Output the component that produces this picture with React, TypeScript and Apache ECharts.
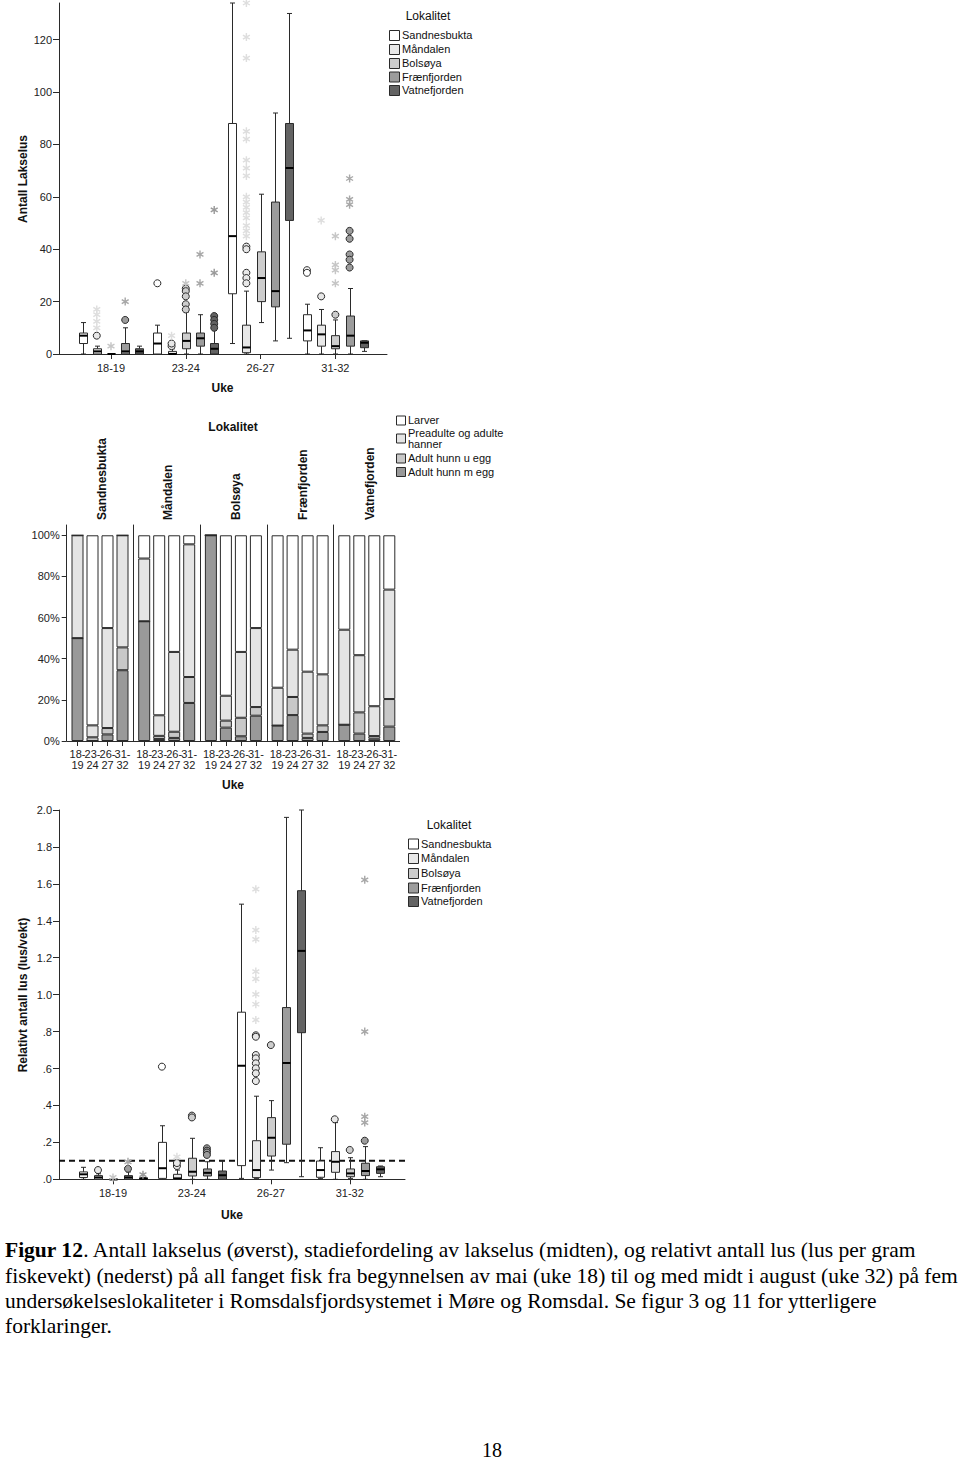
import React, { useEffect, useRef } from 'react';
import * as echarts from 'echarts';

// ---------- categories ----------
const weeks = ['18-19', '23-24', '26-27', '31-32'];
const locations = ['Sandnesbukta', 'Måndalen', 'Bolsøya', 'Frænfjorden', 'Vatnefjorden'];
const stageNames = ['Larver', 'Preadulte og adulte\nhanner', 'Adult hunn u egg', 'Adult hunn m egg'];

// ---------- top: Antall lakselus, box stats [min, q1, median, q3, max] per location x week ----------
const liceBoxSandnesbukta = [[0, 4, 7, 8, 12], [0, 0, 4, 8, 11], [4, 23, 45, 88, 134], [0, 5, 9, 15, 19]];
const liceBoxMandalen = [[0, 0, 1, 2, 3], [0, 0, 0, 1, 2], [0, 0.5, 2.5, 11, 24], [0, 3, 7.5, 11, 17]];
const liceBoxBolsoya = [[0, 0, 0, 0, 0], [0, 2, 5, 8, 16], [12, 20, 29, 39, 61], [0, 2, 3, 7, 13]];
const liceBoxFraenfjorden = [[0, 0, 1, 4, 10], [0, 3, 6, 8, 15], [5, 18, 24, 58, 92], [0, 3, 7, 14.5, 25]];
const liceBoxVatnefjorden = [[0, 0, 1, 2, 3], [0, 0, 2, 4, 9], [6, 51, 71, 88, 130], [1, 2.4, 4.3, 5, 5]];
const liceCircles = [
  [[], [27], [], [32, 31]],
  [[7], [3, 4], [41, 40, 31, 29, 27], [22]],
  [[], [25, 24, 22, 19, 17], [], [15]],
  [[13], [], [], [47, 44, 38, 36, 33]],
  [[], [14.5, 13, 11.5, 10], [], []],
];
const liceStars = [
  [[], [], [], []],
  [[17, 15, 12.5, 10], [7], [134, 121, 113, 85, 82, 74, 71, 68, 60, 58, 56, 54, 52, 49, 47, 45], [51]],
  [[3], [27], [], [45, 34, 32, 27]],
  [[20], [38, 27], [], [67, 59, 57]],
  [[], [55, 31], [], []],
];

// ---------- middle: stage distribution (%) per location x week ----------
const stageEggs = [[50, 0, 3.2, 34.4], [58.2, 1, 1.5, 18.5], [100, 6.5, 2.3, 12.3], [7.5, 12.6, 1.5, 4.4], [7.9, 3.6, 1.1, 7]];
const stageNoEggs = [[0, 1.8, 3.1, 11.1], [0, 1.5, 3, 12.6], [0, 3.4, 9, 4.2], [0, 8.8, 2.1, 3.2], [0, 10.3, 1.3, 13.4]];
const stagePreadult = [[50, 5.8, 48.6, 54.5], [30.5, 10, 38.8, 64.5], [0, 12.1, 32, 38.4], [18.4, 23, 30.1, 24.8], [46.2, 27.8, 14.5, 53.2]];
const stageLarvae = [[0, 92.4, 45.1, 0], [11.3, 87.5, 56.7, 4.4], [0, 78, 56.7, 45.1], [74.1, 55.6, 66.3, 67.6], [45.9, 58.3, 83.1, 26.4]];

// ---------- bottom: relative lice (lus/vekt) ----------
const relBoxSandnesbukta = [[0, 0.01, 0.027, 0.04, 0.065], [0, 0.005, 0.06, 0.2, 0.29], [0.005, 0.074, 0.615, 0.905, 1.49], [0.005, 0.011, 0.05, 0.099, 0.171]];
const relBoxMandalen = [[0, 0, 0.01, 0.02, 0.03], [0, 0, 0.005, 0.027, 0.05], [0.005, 0.009, 0.05, 0.209, 0.45], [0, 0.038, 0.095, 0.15, 0.307]];
const relBoxBolsoya = [[0, 0, 0, 0, 0], [0, 0.018, 0.041, 0.114, 0.222], [0.05, 0.126, 0.225, 0.334, 0.426], [0.005, 0.014, 0.032, 0.056, 0.117]];
const relBoxFraenfjorden = [[0, 0, 0.01, 0.02, 0.04], [0, 0.018, 0.035, 0.056, 0.095], [0.09, 0.19, 0.63, 0.93, 1.96], [0, 0.02, 0.045, 0.087, 0.177]];
const relBoxVatnefjorden = [[0, 0, 0.003, 0.008, 0.01], [0, 0, 0.022, 0.045, 0.1], [0.014, 0.794, 1.237, 1.563, 2.0], [0.014, 0.032, 0.054, 0.068, 0.072]];
const relCircles = [
  [[], [0.61], [], []],
  [[0.05], [0.072, 0.088], [0.78, 0.772, 0.673, 0.655, 0.628, 0.601, 0.574, 0.532], [0.325]],
  [[], [0.345, 0.335], [0.727], [0.159]],
  [[0.057], [0.168, 0.155, 0.145, 0.132], [], [0.209]],
  [[], [], [], []],
];
const relStars = [
  [[], [], [], []],
  [[], [0.122], [1.571, 1.35, 1.3, 1.125, 1.085, 1.002, 0.948, 0.863], []],
  [[0.01], [], [], []],
  [[0.095], [], [], [1.622, 0.8, 0.339, 0.307]],
  [[0.025], [], [], []],
];
const relThreshold = 0.1;

const topTicks = [0, 20, 40, 60, 80, 100, 120];
const midTicks = [0, 20, 40, 60, 80, 100];
const bottomTicks = [0, 0.2, 0.4, 0.6, 0.8, 1.0, 1.2, 1.4, 1.6, 1.8, 2.0];

const captionLines = [
  '{b|Figur 12}. Antall lakselus (øverst), stadiefordeling av lakselus (midten), og relativt antall lus (lus per gram',
  'fiskevekt) (nederst) på all fanget fisk fra begynnelsen av mai (uke 18) til og med midt i august (uke 32) på fem',
  'undersøkelseslokaliteter i Romsdalsfjordsystemet i Møre og Romsdal. Se figur 3 og 11 for ytterligere',
  'forklaringer.',
];

// ---------- styles ----------
const FONT = '"Liberation Sans", Arial, Helvetica, sans-serif';
const SERIF = '"Liberation Serif", "Times New Roman", serif';
const FILL = ['#ffffff', '#e8e8e8', '#cdcdcd', '#9c9c9c', '#636363'];
const STAR = ['#c8c8c8', '#dedede', '#c6c6c6', '#a8a8a8', '#9a9a9a'];
const STAGE_FILL = ['#ffffff', '#e4e4e4', '#c8c8c8', '#999999'];
const INK = '#2a2a2a';

function asteriskPath() {
  const parts: string[] = [];
  for (const a of [0, Math.PI / 3, (2 * Math.PI) / 3]) {
    const c = Math.cos(a), s = Math.sin(a);
    const pts = [[-0.9, -5], [0.9, -5], [0.9, 5], [-0.9, 5]].map(([x, y]) => [(x * c - y * s).toFixed(3), (x * s + y * c).toFixed(3)]);
    parts.push('M' + pts.map((p) => p.join(',')).join('L') + 'Z');
  }
  return 'path://' + parts.join(' ');
}

function boxRender(fill: string) {
  return (params: any, api: any) => {
    const x = api.value(0);
    const lo = api.coord([x, api.value(1)]);
    const q1 = api.coord([x, api.value(2)]);
    const md = api.coord([x, api.value(3)]);
    const q3 = api.coord([x, api.value(4)]);
    const hi = api.coord([x, api.value(5)]);
    const cx = Math.round(lo[0]) + 0.5;
    const hw = 4, cw = 2.5;
    const st = { stroke: INK, lineWidth: 1 };
    return {
      type: 'group',
      children: [
        { type: 'line', shape: { x1: cx, y1: hi[1], x2: cx, y2: q3[1] }, style: st },
        { type: 'line', shape: { x1: cx, y1: q1[1], x2: cx, y2: lo[1] }, style: st },
        { type: 'line', shape: { x1: cx - cw, y1: hi[1], x2: cx + cw, y2: hi[1] }, style: st },
        { type: 'line', shape: { x1: cx - cw, y1: lo[1], x2: cx + cw, y2: lo[1] }, style: st },
        { type: 'rect', shape: { x: cx - hw, y: q3[1], width: 2 * hw, height: Math.max(q1[1] - q3[1], 0.5) }, style: { fill, stroke: INK, lineWidth: 1 } },
        { type: 'line', shape: { x1: cx - hw, y1: md[1], x2: cx + hw, y2: md[1] }, style: { stroke: '#000', lineWidth: 2 } },
      ],
    };
  };
}

function boxSeries(gridAxis: number, boxes: number[][][], circles: number[][][], stars: number[][][], step: number) {
  const out: any[] = [];
  boxes.forEach((locBoxes, l) => {
    const off = (l - 2) * step;
    out.push({
      type: 'custom',
      name: locations[l],
      xAxisIndex: gridAxis,
      yAxisIndex: gridAxis,
      renderItem: boxRender(FILL[l]),
      encode: { x: 0, y: [1, 2, 3, 4, 5] },
      data: locBoxes.map((b, k) => [k + off, ...b]),
      z: 2,
    });
  });
  boxes.forEach((_, l) => {
    const off = (l - 2) * step;
    const cData: number[][] = [];
    circles[l].forEach((vals, k) => vals.forEach((v) => cData.push([k + off, v])));
    const sData: number[][] = [];
    stars[l].forEach((vals, k) => vals.forEach((v) => sData.push([k + off, v])));
    out.push({
      type: 'scatter', name: locations[l] + ' outliers', xAxisIndex: gridAxis, yAxisIndex: gridAxis,
      symbol: 'circle', symbolSize: 7, data: cData, z: 3,
      itemStyle: { color: FILL[l], borderColor: INK, borderWidth: 1, opacity: 1 },
    });
    out.push({
      type: 'scatter', name: locations[l] + ' extremes', xAxisIndex: gridAxis, yAxisIndex: gridAxis,
      symbol: asteriskPath(), symbolSize: 8, symbolKeepAspect: true, data: sData, z: 3,
      itemStyle: { color: STAR[l], opacity: 1 },
    });
  });
  return out;
}

const axisLineStyle = { color: INK, width: 1 };
const labelStyle = { color: '#222', fontSize: 11, fontFamily: FONT };

function boxXAxis(gridIndex: number, min: number, max: number, margin: number) {
  return {
    type: 'value', gridIndex, min, max,
    axisLine: { show: true, onZero: false, lineStyle: axisLineStyle },
    axisTick: { show: true, customValues: [0, 1, 2, 3], length: 5, lineStyle: axisLineStyle },
    axisLabel: { show: true, customValues: [0, 1, 2, 3], formatter: (v: number) => weeks[Math.round(v)] ?? '', margin, ...labelStyle },
    splitLine: { show: false },
  };
}

function legendBlock(title: string, titleX: number, titleY: number, swX: number, txtX: number, rows: number[], names: string[], fills: string[], sw: number, bold: boolean) {
  const els: any[] = [];
  if (title) {
    els.push({ type: 'text', x: titleX, y: titleY, style: { text: title, font: `${bold ? 'bold ' : ''}12px ${FONT}`, fill: '#111', align: 'center', verticalAlign: 'middle' } });
  }
  names.forEach((n, i) => {
    els.push({ type: 'rect', shape: { x: swX + 0.5, y: rows[i] - sw / 2 + 0.5, width: sw, height: sw }, style: { fill: fills[i], stroke: INK, lineWidth: 1 } });
    const lines = n.split('\n');
    lines.forEach((ln, j) => {
      els.push({ type: 'text', x: txtX, y: rows[i] - (lines.length - 1) * 5.5 + j * 11, style: { text: ln, font: `11px ${FONT}`, fill: '#111', align: 'left', verticalAlign: 'middle' } });
    });
  });
  return els;
}

export default function App() {
  const ref = useRef<HTMLDivElement>(null);
  useEffect(() => {
    if (!ref.current) return;
    const chart = echarts.init(ref.current, null, { renderer: 'svg' });

    let capScale = 1;
    try {
      const ctx = document.createElement('canvas').getContext('2d');
      if (ctx) {
        ctx.font = `20px ${SERIF}`;
        const w = ctx.measureText(captionLines[1]).width;
        if (w > 0) capScale = 953 / w;
      }
    } catch (e) { /* ignore */ }

    const grids: any[] = [{ left: 59, top: 3, width: 328, height: 351 }];
    for (let i = 0; i < 5; i++) grids.push({ left: 70 + i * 66.7, top: 525, width: 60, height: 216 });
    grids.push({ left: 59, top: 810, width: 346, height: 369.3 });

    const xAxes: any[] = [boxXAxis(0, -0.695, 3.69, 8)];
    const yAxes: any[] = [{
      type: 'value', gridIndex: 0, min: 0, max: 134,
      axisLine: { show: true, onZero: false, lineStyle: axisLineStyle },
      axisTick: { show: true, customValues: topTicks, length: 6, lineStyle: axisLineStyle },
      axisLabel: { show: true, customValues: topTicks, margin: 7, ...labelStyle },
      splitLine: { show: false },
    }];
    for (let i = 0; i < 5; i++) {
      xAxes.push({
        type: 'category', gridIndex: 1 + i, data: weeks,
        axisLine: { show: false },
        axisTick: { show: true, alignWithLabel: true, length: 5, lineStyle: axisLineStyle },
        axisLabel: { show: true, interval: 0, margin: 7, lineHeight: 11, formatter: (v: string) => v.replace('-', '-\n'), ...labelStyle },
        splitLine: { show: false },
      });
      yAxes.push({
        type: 'value', gridIndex: 1 + i, min: 0, max: 105, offset: 3.3,
        axisLine: { show: true, onZero: false, lineStyle: axisLineStyle },
        axisTick: { show: i === 0, customValues: midTicks, length: 5, lineStyle: axisLineStyle },
        axisLabel: { show: i === 0, customValues: midTicks, margin: 7, formatter: '{value}%', ...labelStyle },
        splitLine: { show: false },
      });
    }
    xAxes.push(boxXAxis(6, -0.684, 3.70, 8));
    yAxes.push({
      type: 'value', gridIndex: 6, min: 0, max: 2,
      axisLine: { show: true, onZero: false, lineStyle: axisLineStyle },
      axisTick: { show: true, customValues: bottomTicks, length: 6, lineStyle: axisLineStyle },
      axisLabel: {
        show: true, customValues: bottomTicks, margin: 7, ...labelStyle,
        formatter: (v: number) => (v >= 1 ? v.toFixed(1) : v.toFixed(1).replace(/^0/, '')),
      },
      splitLine: { show: false },
    });

    const series: any[] = [];
    series.push(...boxSeries(0,
      [liceBoxSandnesbukta, liceBoxMandalen, liceBoxBolsoya, liceBoxFraenfjorden, liceBoxVatnefjorden],
      liceCircles, liceStars, 0.19));

    const stageSets = [stageEggs, stageNoEggs, stagePreadult, stageLarvae];
    const stageFillOrder = [STAGE_FILL[3], STAGE_FILL[2], STAGE_FILL[1], STAGE_FILL[0]];
    const stageNameOrder = [stageNames[3], stageNames[2], stageNames[1], stageNames[0]];
    for (let g = 0; g < 5; g++) {
      stageSets.forEach((set, s) => {
        series.push({
          type: 'bar', name: stageNameOrder[s].replace('\n', ' '), xAxisIndex: 1 + g, yAxisIndex: 1 + g,
          stack: 'loc' + g, data: set[g], barWidth: 12,
          itemStyle: { color: stageFillOrder[s], borderColor: INK, borderWidth: 1 },
        });
      });
    }

    series.push(...boxSeries(6,
      [relBoxSandnesbukta, relBoxMandalen, relBoxBolsoya, relBoxFraenfjorden, relBoxVatnefjorden],
      relCircles, relStars, 0.19));
    series.push({
      type: 'line', name: 'Grense', xAxisIndex: 6, yAxisIndex: 6, showSymbol: false, z: 1,
      data: [[-0.684, relThreshold], [3.70, relThreshold]],
      lineStyle: { color: '#111', width: 2, type: [6, 4] },
    });

    const graphic: any[] = [];
    const title = (text: string, x: number, y: number, rot = 0, align = 'center') => ({
      type: 'text', x, y, rotation: rot,
      style: { text, font: `bold 12px ${FONT}`, fill: '#111', align, verticalAlign: 'middle' },
    });
    graphic.push(title('Antall Lakselus', 22.7, 179, Math.PI / 2));
    graphic.push(title('Uke', 222.5, 388));
    graphic.push(...legendBlock('Lokalitet', 428, 15.5, 389, 402, [35, 49, 63, 76.5, 90], locations, FILL, 10, false));

    graphic.push(title('Lokalitet', 233, 426.5));
    const locCx = [101.7, 168.3, 236, 303.3, 370];
    locations.forEach((n, i) => graphic.push(title(n, locCx[i], 520, Math.PI / 2, 'left')));
    graphic.push(...legendBlock('', 0, 0, 396, 408, [420, 438, 458, 471.5], stageNames, STAGE_FILL, 9, false));
    graphic.push({ type: 'line', shape: { x1: 66.7, y1: 741.5, x2: 400, y2: 741.5 }, style: { stroke: INK, lineWidth: 1 } });
    graphic.push(title('Uke', 233, 785));

    graphic.push(title('Relativt antall lus (lus/vekt)', 22.7, 995, Math.PI / 2));
    graphic.push(title('Uke', 232, 1215));
    graphic.push(...legendBlock('Lokalitet', 449, 825, 408, 421, [843.5, 858, 873, 887.5, 901], locations, FILL, 10, false));

    const capY = [1250, 1276, 1301, 1326];
    captionLines.forEach((ln, i) => {
      graphic.push({
        type: 'text', x: 5, y: capY[i], scaleX: capScale,
        style: {
          text: ln, font: `20px ${SERIF}`, fill: '#000', align: 'left', verticalAlign: 'middle',
          rich: { b: { font: `bold 20px ${SERIF}`, fill: '#000' } },
        },
      });
    });
    graphic.push({ type: 'text', x: 492, y: 1450, style: { text: '18', font: `20px ${SERIF}`, fill: '#000', align: 'center', verticalAlign: 'middle' } });

    chart.setOption({
      animation: false,
      backgroundColor: '#ffffff',
      grid: grids,
      xAxis: xAxes,
      yAxis: yAxes,
      series,
      graphic: { elements: graphic },
    });
    return () => chart.dispose();
  }, []);
  return <div ref={ref} style={{ position: 'absolute', left: 0, top: 0, width: 960, height: 1461 }} />;
}
